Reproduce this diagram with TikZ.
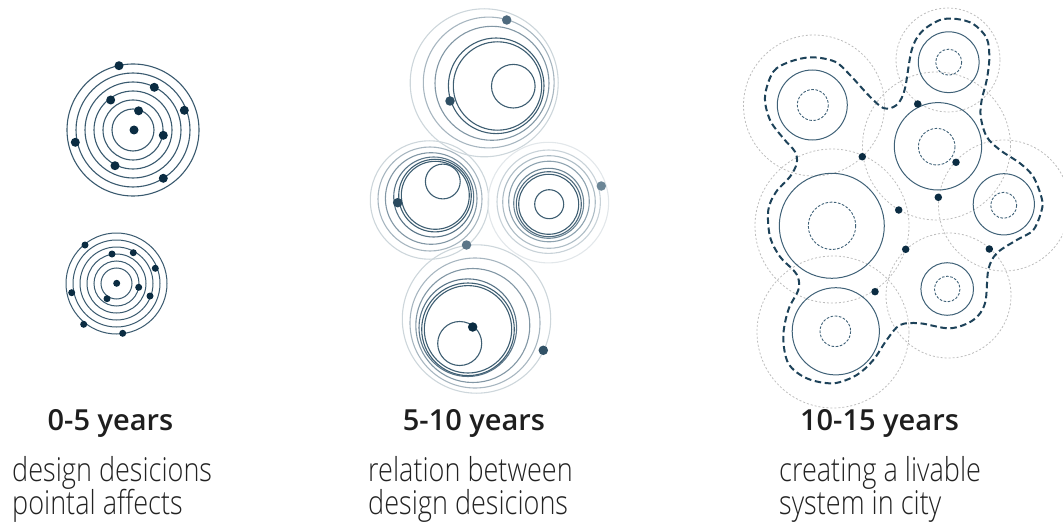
\documentclass[tikz,border=0pt]{standalone}
\usepackage{fontspec}
\setmainfont{Open Sans}
\newfontfamily\lightfont{Open Sans Light}
\newfontfamily\semifont{Open Sans Semibold}
\definecolor{navy}{HTML}{0B2C42}
\definecolor{ringL}{HTML}{3A5A6F}
\definecolor{m1}{HTML}{CDD6DB}
\definecolor{m2}{HTML}{A7B6C0}
\definecolor{m3}{HTML}{8297A5}
\definecolor{m4}{HTML}{5A7588}
\definecolor{m5}{HTML}{3E5E72}
\definecolor{r1}{HTML}{E2E7EA}
\definecolor{r2}{HTML}{C8D2D8}
\definecolor{r3}{HTML}{ADBCC5}
\definecolor{r4}{HTML}{8DA2AF}
\definecolor{r5}{HTML}{6C8696}
\definecolor{r6}{HTML}{4E6A7D}
\definecolor{solidR}{HTML}{3F6177}
\definecolor{grayR}{HTML}{BDBDBD}
\definecolor{bound}{HTML}{1D4259}
\definecolor{headc}{HTML}{1E1E1E}
\definecolor{bodyc}{HTML}{222222}
\begin{document}
\begin{tikzpicture}[x=1pt,y=-1pt,
  ringl/.style={draw=ringL,line width=1.1pt},
  mring/.style={line width=1.1pt},
  dotbig/.style={circle,fill=navy,inner sep=0pt,minimum size=9pt},
  dotsmall/.style={circle,fill=navy,inner sep=0pt,minimum size=7pt},
  dotmid/.style={circle,inner sep=0pt,minimum size=9.5pt},
  dotright/.style={circle,fill=navy,inner sep=0pt,minimum size=7.5pt},
  solidc/.style={draw=solidR,line width=1pt},
  dashc/.style={draw=solidR,line width=0.9pt,dash pattern=on 2.6pt off 1.6pt},
  grayc/.style={draw=grayR,line width=0.8pt,dash pattern=on 2pt off 2pt},
  head/.style={anchor=base,font=\fontsize{29}{33}\selectfont\semifont,text=headc,inner sep=0pt},
  body/.style={anchor=base west,font=\fontsize{33}{38}\selectfont\lightfont,text=bodyc,inner sep=0pt}]
\useasboundingbox (0,0) rectangle (1063,524);

% ---------- left group, top ----------
\foreach \r in {21,30,39,48,57,66} \draw[ringl] (133,130) circle[radius=\r];
\node[dotbig] (a0) at (134,130) {};
\node[dotbig] (a1) at (119,65.7) {};
\node[dotbig] (a2) at (154.3,87.3) {};
\node[dotbig] (a3) at (110.7,100) {};
\node[dotbig] (a4) at (184.3,110.3) {};
\node[dotbig] (a5) at (138.6,110.8) {};
\node[dotbig] (a6) at (163.3,135.3) {};
\node[dotbig] (a7) at (75.3,142.3) {};
\node[dotbig] (a8) at (115,165.7) {};
\node[dotbig] (a9) at (163.3,178.3) {};

% ---------- left group, bottom ----------
\foreach \r in {15.5,22.5,29.5,36.5,43.5,50.5} \draw[ringl,line width=1pt] (116.5,283.5) circle[radius=\r];
\node[dotsmall] (b0) at (116.7,283.3) {};
\node[dotsmall] (b1) at (85,245) {};
\node[dotsmall] (b2) at (133.3,252.7) {};
\node[dotsmall] (b3) at (112,254) {};
\node[dotsmall] (b4) at (155.3,268.3) {};
\node[dotsmall] (b5) at (138.7,287.3) {};
\node[dotsmall] (b6) at (71.7,292.7) {};
\node[dotsmall] (b7) at (150,296) {};
\node[dotsmall] (b8) at (107,298.7) {};
\node[dotsmall] (b9) at (83.7,324.3) {};
\node[dotsmall] (b10) at (122.7,333.3) {};

% ---------- middle group ----------
% top cluster
\draw[mring,draw=m1] (484.2,82.8) circle[radius=74];
\draw[mring,draw=m2] (488.7,82.5) circle[radius=65.4];
\draw[mring,draw=m3] (492,83.3) circle[radius=57];
\draw[mring,draw=m5] (496.2,85.8) circle[radius=47.8];
\draw[mring,draw=m5] (497.5,86) circle[radius=44.2];
\draw[mring,draw=m5] (513.3,86.2) circle[radius=21.8];
\node[dotmid,fill=m4!85!navy] (c1) at (506.7,20) {};
\node[dotmid,fill=m5!70!navy] (c2) at (450,101) {};
% left cluster
\draw[mring,draw=m1] (429.5,200) circle[radius=59.2];
\draw[mring,draw=m2] (430,199) circle[radius=52];
\draw[mring,draw=m3] (431.2,198.5) circle[radius=45.8];
\draw[mring,draw=m4] (433.7,197) circle[radius=40];
\draw[mring,draw=m5] (435,195.6) circle[radius=36.3];
\draw[mring,draw=m5] (435.3,195.3) circle[radius=34];
\draw[mring,draw=m5] (442.8,181.5) circle[radius=17.4];
\node[dotmid,fill=m5!60!navy] (c3) at (397.7,202.7) {};
% right cluster
\draw[mring,draw=r1] (548.3,202.6) circle[radius=60.3];
\draw[mring,draw=r2] (548.7,201.7) circle[radius=51.7];
\draw[mring,draw=r3] (549,202) circle[radius=46.3];
\draw[mring,draw=r4] (549,201.5) circle[radius=40.3];
\draw[mring,draw=r5] (548.7,203.3) circle[radius=35];
\draw[mring,draw=r6] (548.8,204.2) circle[radius=32.5];
\draw[mring,draw=m5] (548.7,204.3) circle[radius=30];
\draw[mring,draw=m5] (549.2,204.2) circle[radius=14.5];
\node[dotmid,fill=r5] (c4) at (601.3,186) {};
% bottom cluster
\draw[mring,draw=m1] (476.5,319) circle[radius=74.2];
\draw[mring,draw=m2] (475,323) circle[radius=65];
\draw[mring,draw=m3] (472.8,325.5) circle[radius=57];
\draw[mring,draw=m4] (467.8,327.7) circle[radius=48.8];
\draw[mring,draw=m5] (468,329.3) circle[radius=46.3];
\draw[mring,draw=m5] (468,329.3) circle[radius=43.7];
\draw[mring,draw=m5] (459.7,343.5) circle[radius=22];
\node[dotmid,fill=m4] (c5) at (466.5,245) {};
\node[dotmid,fill=navy] (c6) at (472.7,327) {};
\node[dotmid,fill=m5!75!navy] (c7) at (543.3,350.3) {};

% ---------- right group ----------
% gray outer circles
\draw[grayc] (814,105.5) circle[radius=70.5];
\draw[grayc] (948,60) circle[radius=52];
\draw[grayc] (936.5,146) circle[radius=74];
\draw[grayc] (1004,205.5) circle[radius=65.5];
\draw[grayc] (832,226) circle[radius=77];
\draw[grayc] (833,332) circle[radius=76];
\draw[grayc] (948.5,295.5) circle[radius=62.5];
% solid circles
\draw[solidc] (812.3,105) circle[radius=35];
\draw[solidc] (948.7,62.2) circle[radius=30.4];
\draw[solidc] (938,146.3) circle[radius=43.7];
\draw[solidc] (1003.8,204.3) circle[radius=30.6];
\draw[solidc] (831.8,225.8) circle[radius=52.5];
\draw[solidc] (835.8,331.3) circle[radius=43.6];
\draw[solidc] (947.2,289) circle[radius=26.3];
% dashed inner circles
\draw[dashc] (812.8,105) circle[radius=15.5];
\draw[dashc] (948.7,62.2) circle[radius=13];
\draw[dashc] (936.7,146.7) circle[radius=18.3];
\draw[dashc] (1003.7,205.3) circle[radius=13];
\draw[dashc] (832,225.8) circle[radius=23.7];
\draw[dashc] (835.3,331.3) circle[radius=15.3];
\draw[dashc] (947.2,289) circle[radius=12.8];
% boundary
\draw[bound,line width=2pt,dash pattern=on 6.5pt off 3.6pt]
  plot[smooth cycle,tension=0.55] coordinates {
  (765,96.7) (773.3,71.7) (790,61.7) (811.7,57.3) (835,61.7) (850,75)
  (866.7,93.3) (880,106) (888.3,108.7) (898.3,103.3) (905,88.3) (911.7,50)
  (921.7,31.7) (940,20) (956.7,19) (973.3,24) (986.7,38.3) (989.3,58.3)
  (986.7,80) (981.7,100) (980.7,116.7) (986.7,136.7) (1000,150) (1020,163.3)
  (1033.3,176.7) (1041.7,198.3) (1041.7,210) (1033.3,230) (1016.7,240)
  (996.7,253.3) (988.3,270) (985,303.3) (973.3,320) (950,328.3) (920,323.3)
  (900,325) (886.7,340) (873.3,360) (856.7,375) (833.3,383.3) (806.7,378.3)
  (788.3,363.3) (783.3,336.7) (788.3,310) (798.3,290) (798.3,278.3)
  (793.3,270) (780,256.7) (770,236.7) (768.3,210) (776,192) (790,176.7)
  (796.7,163.3) (795,151.7) (783.3,138.3) (770,120)};
% dots
\node[dotright] (e1) at (917.7,104) {};
\node[dotright] (e2) at (862.3,156.7) {};
\node[dotright] (e3) at (956,162.3) {};
\node[dotright] (e4) at (938.3,197.3) {};
\node[dotright] (e5) at (898.7,210) {};
\node[dotright] (e6) at (905.7,249.3) {};
\node[dotright] (e7) at (989.3,249) {};
\node[dotright] (e8) at (875,291.7) {};

% ---------- texts ----------
\node[head] (h1) at (110.5,430) {0-5 years};
\node[head] (h2) at (474,430) {5-10 years};
\node[head] (h3) at (879.5,430) {10-15 years};
\node[body] (t1a) at (12,481) {\scalebox{0.82}[1]{design desicions}};
\node[body] (t1b) at (12,514.5) {\scalebox{0.82}[1]{pointal affects}};
\node[body] (t2a) at (368,481) {\scalebox{0.82}[1]{relation between}};
\node[body] (t2b) at (368,514.5) {\scalebox{0.82}[1]{design desicions}};
\node[body] (t3a) at (779,481) {\scalebox{0.82}[1]{creating a livable}};
\node[body] (t3b) at (779,514.5) {\scalebox{0.82}[1]{system in city}};
\end{tikzpicture}
\end{document}
